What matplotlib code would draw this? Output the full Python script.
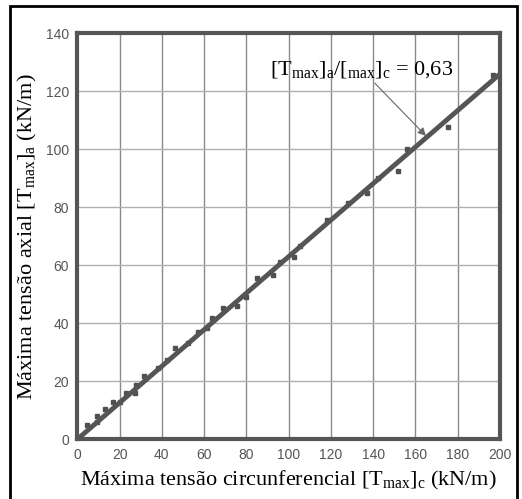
import numpy as np
import matplotlib
matplotlib.use('Agg')
import matplotlib.pyplot as plt
from matplotlib.patches import Rectangle

plt.rcParams['mathtext.fontset'] = 'custom'
plt.rcParams['mathtext.rm'] = 'Liberation Serif'
plt.rcParams['mathtext.it'] = 'Liberation Serif:italic'

# data
t_circ = [4.4, 9.1, 9.1, 13, 16.7, 20, 23, 27.3, 27.8, 31.5, 38.3, 42.3, 46.2,
          52.5, 57.3, 61.2, 63.6, 69, 75.7, 80, 84.8, 92.4, 95.9, 102.5, 105.4,
          118, 127.9, 136.9, 142.4, 151.9, 156.2, 175.5, 196.8]
t_axial = [4.9, 8.0, 6.1, 10.3, 13, 12.8, 15.9, 16, 18.7, 21.8, 24.5, 27.4, 31.4,
           33.1, 37.1, 38.3, 41.7, 45.2, 46, 48.9, 55.5, 56.7, 61.3, 63, 66.7,
           75.6, 81.4, 85, 90, 92.5, 100, 107.8, 125.6]
ratio = 0.63
fit_x = [0, 200]

x_ticks = list(range(0, 201, 20))
y_ticks = list(range(0, 141, 20))

fig = plt.figure(figsize=(5.22, 4.99), dpi=100)
ax = fig.add_axes([77.3 / 522, 1 - 439.3 / 499, (500 - 77.3) / 522, (439.3 - 33.3) / 499])

# outer frame of the figure
fig.patches.append(Rectangle((10 / 522, -0.05), (517 - 10) / 522, 1.05 - 6 / 499,
                             transform=fig.transFigure, fill=False,
                             edgecolor='black', linewidth=2))

ax.set_xlim(0, 200)
ax.set_ylim(0, 140)
ax.set_xticks(x_ticks)
ax.set_yticks(y_ticks)

for xv in x_ticks[1:-1]:
    ax.axvline(xv, color='#8a8a8a', linewidth=1, zorder=0)
for yv in y_ticks[1:-1]:
    ax.axhline(yv, color='#b0b0b0', linewidth=1, zorder=0)

ax.plot(t_circ, t_axial, 's', color='#505050', markersize=3.5, zorder=3)
ax.plot(fit_x, [ratio * v for v in fit_x], color='#555555', linewidth=3.5,
        solid_capstyle='butt', zorder=4)

for s in ax.spines.values():
    s.set_color('#555555')
    s.set_linewidth(3)
ax.tick_params(length=0, pad=6, labelsize=10, labelcolor='#555555')
for lab in ax.get_xticklabels() + ax.get_yticklabels():
    lab.set_family('Liberation Sans')

ax.set_xlabel(r'Máxima tensão circunferencial [T$_{\mathrm{max}}$]$_{\mathrm{c}}$ (kN/m)',
              family='Liberation Serif', fontsize=16, labelpad=5)
ax.set_ylabel(r'Máxima tensão axial [T$_{\mathrm{max}}$]$_{\mathrm{a}}$ (kN/m)',
              family='Liberation Serif', fontsize=16, labelpad=5)

ax.annotate(r'[T$_{\mathrm{max}}$]$_{\mathrm{a}}$/[$_{\mathrm{max}}$]$_{\mathrm{c}}$ = 0,63',
            xy=(165, 104.6), xytext=(91.3, 127.4), family='Liberation Serif',
            fontsize=16, va='center', ha='left', zorder=5,
            arrowprops=dict(arrowstyle='-|>', color='#666666', lw=0.8,
                            shrinkA=0, shrinkB=0, mutation_scale=12),
            )

fig.savefig('out.png', dpi=100)
